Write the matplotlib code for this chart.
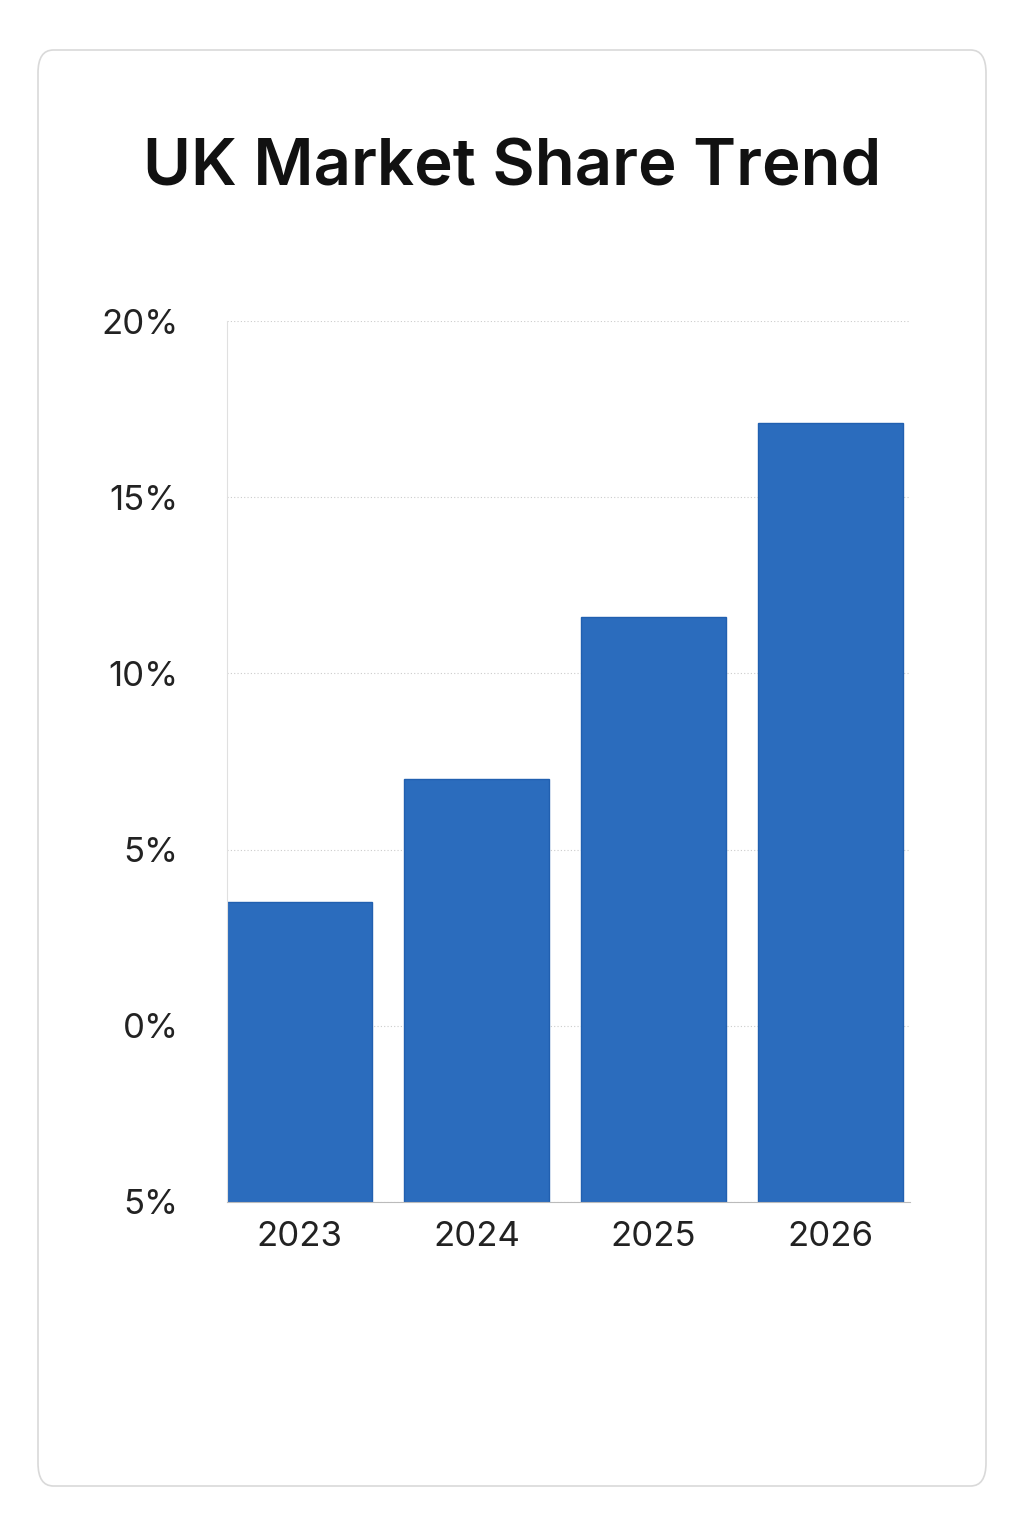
import matplotlib
matplotlib.use("Agg")
import matplotlib.pyplot as plt
from matplotlib.patches import FancyBboxPatch

years = ["2023", "2024", "2025", "2026"]
share = [3.5, 7.0, 11.6, 17.1]
yticks = [-5, 0, 5, 10, 15, 20]
ytick_labels = ["5%", "0%", "5%", "10%", "15%", "20%"]
base = -5

plt.rcParams['font.family'] = ['Inter', 'DejaVu Sans']
fig = plt.figure(figsize=(10.24, 15.36), dpi=100)
card = FancyBboxPatch((38/1024, 50/1536), 948/1024, 1436/1536,
                      boxstyle="round,pad=0,rounding_size=0.015",
                      transform=fig.transFigure, facecolor="white",
                      edgecolor="#d9d9d9", linewidth=1.2, zorder=-10)
fig.patches.append(card)
fig.text(0.5, 1-168/1536, "UK Market Share Trend", ha="center", va="center",
         fontsize=47, fontweight="semibold", color="#111111")

ax = fig.add_axes([227/1024, 1-1202/1536, 683/1024, (1202-321)/1536])
ax.set_facecolor("none")
x = list(range(len(years)))
ax.bar(x, [v - base for v in share], bottom=base, width=0.82,
       color="#2b6cbd", edgecolor="#2160b0", linewidth=1)
ax.set_xlim(-0.41, 3.45)
ax.set_ylim(-5, 20)
ax.set_yticks(yticks)
ax.set_yticklabels(ytick_labels)
ax.set_xticks(x)
ax.set_xticklabels(years)
ax.tick_params(axis="both", length=0, labelsize=25, colors="#222222")
ax.tick_params(axis="y", pad=35)
ax.tick_params(axis="x", pad=14)
ax.grid(axis="y", linestyle=(0, (1, 2)), color="#cccccc", linewidth=0.8)
ax.set_axisbelow(True)
for s in ["top", "right"]:
    ax.spines[s].set_visible(False)
ax.spines["left"].set_color("#e0e0e0")
ax.spines["bottom"].set_color("#bbbbbb")
fig.savefig("out.png", dpi=100)
